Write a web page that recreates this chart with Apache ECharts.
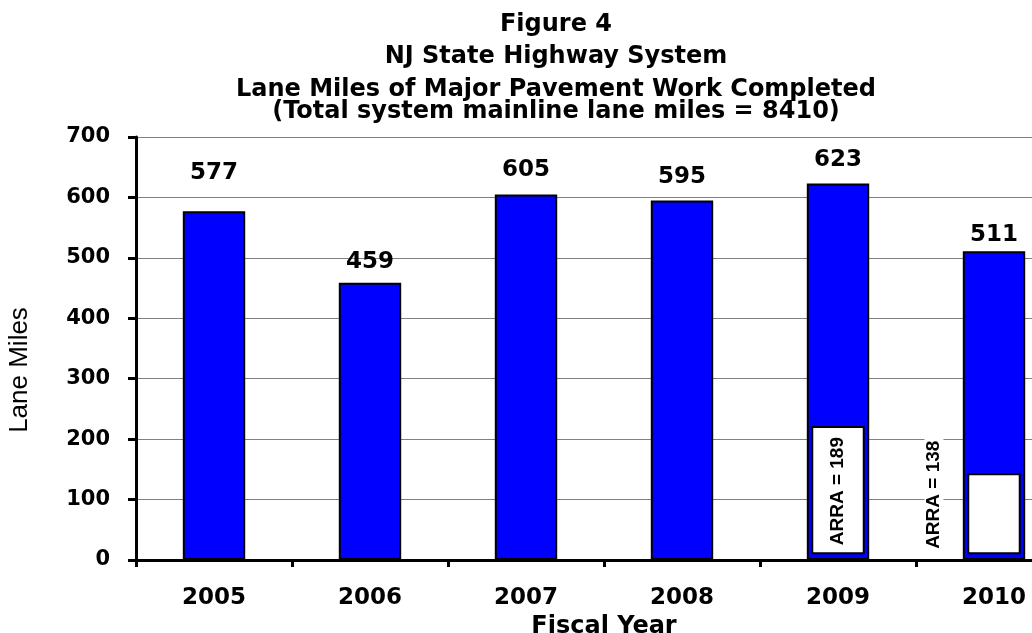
<!DOCTYPE html>
<html>
<head>
<meta charset="utf-8">
<script src="https://cdn.jsdelivr.net/npm/echarts@6/dist/echarts.min.js"></script>
<style>
html,body{margin:0;padding:0;background:#fff;overflow:hidden;width:1032px;height:633px;}
#chart{width:1072px;height:633px;}
</style>
</head>
<body>
<div id="chart"></div>
<script>
// ---- data ----
var years = ['2005', '2006', '2007', '2008', '2009', '2010'];
var laneMiles = [577, 459, 605, 595, 623, 511];
var yTicks = [0, 100, 200, 300, 400, 500, 600, 700];
var titleLines = ['Figure 4', 'NJ State Highway System', 'Lane Miles of Major Pavement Work Completed', '(Total system mainline lane miles = 8410)'];
// ARRA annotation boxes
var arraYearIndex = [4, 5];
var arraBoxBottom = [11, 11];
var arraBoxTop = [220, 142];
var arraLabels = ['ARRA = 189', 'ARRA = 138'];

// ---- styling / placement (not data) ----
var labelDistance = [27, 9, 13, 12, 12, 5];
var arraLabelShift = [0, -0.385];   // in category bands
var arraLabelCenter = [114, 108];   // value units
var titleCenters = [25, 57, 90, 112];
var WIDE = '"DejaVu Sans", Verdana, sans-serif';
var ARIAL = '"Liberation Sans", Arial, sans-serif';

var chart = echarts.init(document.getElementById('chart'), null, {renderer: 'canvas'});

var barData = laneMiles.map(function (v, i) {
  return {value: v, label: {distance: labelDistance[i]}};
});
var arraData = arraYearIndex.map(function (c, i) {
  return [c, arraBoxBottom[i], arraBoxTop[i], arraLabelShift[i], arraLabelCenter[i], i];
});

var graphics = titleLines.map(function (t, i) {
  return {
    type: 'text',
    x: 556, y: titleCenters[i],
    style: {text: t, font: 'bold 24px ' + WIDE, fill: '#000', align: 'center', verticalAlign: 'middle'}
  };
});
graphics.push({
  type: 'text',
  x: 20, y: 370,
  rotation: Math.PI / 2,
  style: {text: 'Lane Miles', font: '26px ' + ARIAL, fill: '#000', align: 'center', verticalAlign: 'middle'}
});

var option = {
  backgroundColor: '#ffffff',
  animation: false,
  grid: {left: 136, top: 137, right: 0, height: 423, containLabel: false, outerBoundsMode: 'none'},
  xAxis: {
    type: 'category',
    data: years,
    name: 'Fiscal Year',
    nameLocation: 'middle',
    nameGap: 55,
    nameTextStyle: {fontFamily: WIDE, fontWeight: 'bold', fontSize: 24, color: '#000'},
    axisLine: {lineStyle: {color: '#000', width: 3}},
    axisTick: {show: true, length: 7, lineStyle: {color: '#000', width: 3}},
    axisLabel: {fontFamily: WIDE, fontWeight: 'bold', fontSize: 23, color: '#000', margin: 27}
  },
  yAxis: {
    type: 'value',
    min: yTicks[0],
    max: yTicks[yTicks.length - 1],
    interval: yTicks[1] - yTicks[0],
    axisLine: {show: true, lineStyle: {color: '#000', width: 3}},
    axisTick: {show: true, length: 8, lineStyle: {color: '#000', width: 3}},
    axisLabel: {fontFamily: WIDE, fontWeight: 'bold', fontSize: 21, color: '#000', margin: 26},
    splitLine: {show: true, lineStyle: {color: '#808080', width: 1}}
  },
  graphic: graphics,
  series: [{
    type: 'bar',
    data: barData,
    barWidth: '40%',
    itemStyle: {color: '#0000FF', borderColor: '#000', borderWidth: 2},
    label: {show: true, position: 'top', fontFamily: WIDE, fontWeight: 'bold', fontSize: 23, color: '#000'},
    z: 2
  }, {
    type: 'custom',
    data: arraData,
    z: 5,
    renderItem: function (params, api) {
      var c = api.value(0);
      var lo = api.coord([c, api.value(1)]);
      var hi = api.coord([c, api.value(2)]);
      var band = api.size([1, 0])[0];
      var w = band * 0.33;
      var tx = lo[0] + api.value(3) * band;
      var ty = api.coord([c, api.value(4)])[1];
      var idx = api.value(5);
      return {
        type: 'group',
        children: [{
          type: 'rect',
          shape: {x: lo[0] - w / 2, y: hi[1], width: w, height: lo[1] - hi[1]},
          style: {fill: '#fff', stroke: '#000', lineWidth: 2}
        }, {
          type: 'text',
          x: tx, y: ty,
          rotation: Math.PI / 2,
          style: {
            text: arraLabels[idx],
            x: 0, y: 0,
            font: 'bold 19px ' + ARIAL,
            fill: '#000',
            align: 'center',
            verticalAlign: 'middle',
            backgroundColor: '#fff',
            padding: [0, 2]
          }
        }]
      };
    }
  }]
};
chart.setOption(option);
</script>
</body>
</html>
